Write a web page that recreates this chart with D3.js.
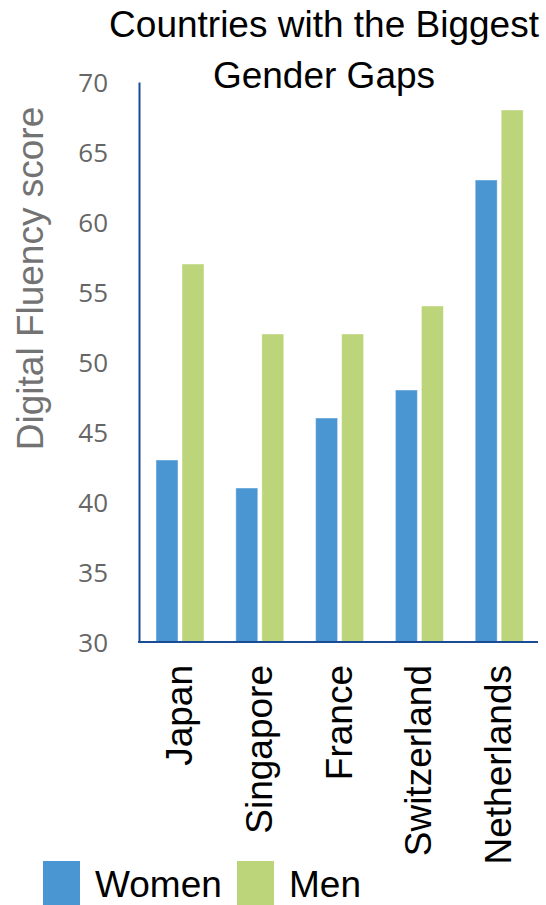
<!DOCTYPE html>
<html>
<head>
<meta charset="utf-8">
<script src="https://cdn.jsdelivr.net/npm/d3@7"></script>
<style>
  html, body { margin: 0; padding: 0; background: #fff; }
  svg { display: block; }
</style>
</head>
<body>
<svg id="chart" width="546" height="905"></svg>
<script>
// Digital Fluency scores by country and gender
const countries = ["Japan", "Singapore", "France", "Switzerland", "Netherlands"];
const seriesNames = ["Women", "Men"];
const women = [43, 41, 46, 48, 63];
const men = [57, 52, 52, 54, 68];
const yTicks = [30, 35, 40, 45, 50, 55, 60, 65, 70];
const titleLines = ["Countries with the Biggest", "Gender Gaps"];
const yTitle = "Digital Fluency score";

const colors = { Women: "#4a96d2", Men: "#bcd47a" };
const axisColor = "#1a4c96";

const rows = countries.map((c, i) => ({ country: c, Women: women[i], Men: men[i] }));

const svg = d3.select("#chart");
const plotLeft = 139, plotRight = 538, plotTop = 82, plotBottom = 642;

const x0 = d3.scaleBand().domain(countries).range([plotLeft, plotRight]).paddingInner(0).paddingOuter(0);
const x1 = d3.scaleBand().domain(seriesNames).range([17, 65]).paddingInner(0.154).paddingOuter(0);
const y = d3.scaleLinear().domain([30, 70]).range([plotBottom, plotTop]);

// Title
svg.append("text")
  .attr("x", 324).attr("y", 37)
  .attr("text-anchor", "middle")
  .style("font-family", "'Liberation Sans', Arial, sans-serif")
  .style("font-size", "37px").style("fill", "#000")
  .selectAll("tspan").data(titleLines).join("tspan")
  .attr("x", 324).attr("dy", (d, i) => i === 0 ? 0 : 51)
  .text(d => d);

// Bars
const groups = svg.append("g").selectAll("g").data(rows).join("g")
  .attr("transform", d => `translate(${x0(d.country)},0)`);
groups.selectAll("rect")
  .data(d => seriesNames.map(s => ({ key: s, value: d[s] })))
  .join("rect")
  .attr("x", d => x1(d.key))
  .attr("width", x1.bandwidth())
  .attr("y", d => y(d.value))
  .attr("height", d => y(30) - y(d.value))
  .attr("fill", d => colors[d.key])
  .attr("stroke", "rgba(255,255,255,0.45)")
  .attr("stroke-width", 1);

// Y axis
const yAxis = svg.append("g")
  .attr("transform", `translate(${plotLeft},0)`)
  .call(d3.axisLeft(y).tickValues(yTicks).tickSize(0).tickPadding(31).tickSizeOuter(0));
yAxis.select(".domain").attr("stroke", axisColor).attr("stroke-width", 2);
yAxis.selectAll(".tick text")
  .style("font-family", "'Open Sans', sans-serif")
  .style("font-size", "26px")
  .style("fill", "#666")
  .attr("dy", "0.36em");

// X axis
const xAxis = svg.append("g")
  .attr("transform", `translate(0,${plotBottom})`)
  .call(d3.axisBottom(x0).tickSize(0).tickSizeOuter(0));
xAxis.select(".domain").attr("stroke", axisColor).attr("stroke-width", 2)
  .attr("d", `M${plotLeft - 1},0H${plotRight}`);
xAxis.selectAll(".tick text")
  .attr("transform", "translate(13,23) rotate(-90)")
  .attr("x", 0).attr("y", 0).attr("dy", 0)
  .attr("text-anchor", "end")
  .style("font-family", "'Liberation Sans', Arial, sans-serif")
  .style("font-size", "37px")
  .style("fill", "#000");

// Y axis title
svg.append("text")
  .attr("transform", `translate(43,${(105 + 452) / 2}) rotate(-90)`)
  .attr("text-anchor", "middle")
  .style("font-family", "'Liberation Sans', Arial, sans-serif")
  .style("font-size", "37px")
  .style("fill", "#737373")
  .text(yTitle);

// Legend
const legend = svg.append("g").selectAll("g").data(seriesNames).join("g")
  .attr("transform", (d, i) => `translate(${43 + i * 194},861)`);
legend.append("rect").attr("width", 37).attr("height", 50).attr("fill", d => colors[d]);
legend.append("text").attr("x", 52).attr("y", 36)
  .style("font-family", "'Liberation Sans', Arial, sans-serif")
  .style("font-size", "37px").style("fill", "#000")
  .text(d => d);
</script>
</body>
</html>
